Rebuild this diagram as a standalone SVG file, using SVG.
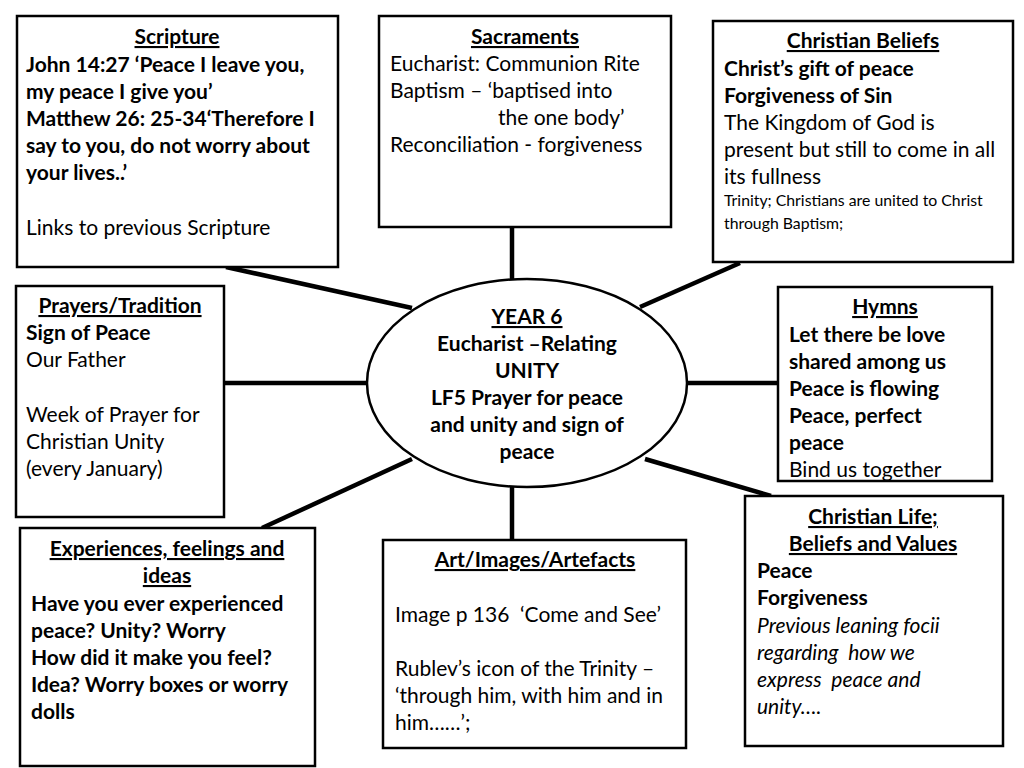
<svg xmlns="http://www.w3.org/2000/svg" width="1024" height="768" viewBox="0 0 1024 768">
<style>
text{font-family:Lato,"Open Sans","Liberation Sans",sans-serif;font-size:21px;fill:#000;white-space:pre}
.b{font-weight:bold}
.t{font-weight:bold;text-decoration:underline;text-anchor:middle}
.i{font-style:italic}
.s{font-size:15.8px}
.c{text-anchor:middle}
.box{fill:#fff;stroke:#000;stroke-width:2.5}
.ln{stroke:#000;stroke-width:4.5;fill:none}
</style>
<rect width="1024" height="768" fill="#fff"/>
<g id="connectors">
<line class="ln" x1="226" y1="267" x2="412" y2="308"/>
<line class="ln" x1="512" y1="227" x2="512" y2="280"/>
<line class="ln" x1="740" y1="263" x2="640" y2="307"/>
<line class="ln" x1="224" y1="383" x2="367" y2="383"/>
<line class="ln" x1="687" y1="383" x2="778" y2="383"/>
<line class="ln" x1="262" y1="528" x2="412" y2="459"/>
<line class="ln" x1="512" y1="487" x2="512" y2="540"/>
<line class="ln" x1="645" y1="459" x2="771" y2="496"/>
</g>
<g id="center">
<ellipse cx="527" cy="383" rx="160" ry="104" fill="#fff" stroke="#000" stroke-width="2.5"/>
<text class="t" x="527" y="324">YEAR 6</text>
<text class="b c" x="527" y="351">Eucharist –Relating</text>
<text class="b c" x="527" y="378">UNITY</text>
<text class="b c" x="527" y="405">LF5 Prayer for peace</text>
<text class="b c" x="527" y="432">and unity and sign of</text>
<text class="b c" x="527" y="459">peace</text>
</g>
<g id="scripture">
<rect class="box" x="17" y="16" width="321" height="251"/>
<text class="t" x="177" y="44">Scripture</text>
<text class="b" x="26" y="72">John 14:27 ‘Peace I leave you,</text>
<text class="b" x="26" y="99">my peace I give you’</text>
<text class="b" x="26" y="126">Matthew 26: 25-34‘Therefore I</text>
<text class="b" x="26" y="153">say to you, do not worry about</text>
<text class="b" x="26" y="180">your lives..’</text>
<text x="26" y="235">Links to previous Scripture</text>
</g>
<g id="sacraments">
<rect class="box" x="379" y="16" width="292" height="211"/>
<text class="t" x="525" y="44">Sacraments</text>
<text x="390" y="71">Eucharist: Communion Rite</text>
<text x="390" y="98">Baptism – ‘baptised into</text>
<text x="498" y="125">the one body’</text>
<text x="390" y="152">Reconciliation - forgiveness</text>
</g>
<g id="beliefs">
<rect class="box" x="713" y="21" width="300" height="241"/>
<text class="t" x="863" y="48">Christian Beliefs</text>
<text class="b" x="724" y="76">Christ’s gift of peace</text>
<text class="b" x="724" y="103">Forgiveness of Sin</text>
<text x="724" y="130">The Kingdom of God is</text>
<text x="724" y="157">present but still to come in all</text>
<text x="724" y="184">its fullness</text>
<text class="s" x="724" y="206">Trinity; Christians are united to Christ</text>
<text class="s" x="724" y="229">through Baptism;</text>
</g>
<g id="prayers">
<rect class="box" x="16" y="286" width="208" height="231"/>
<text class="t" x="120" y="313">Prayers/Tradition</text>
<text class="b" x="26" y="340">Sign of Peace</text>
<text x="26" y="367">Our Father</text>
<text x="26" y="422">Week of Prayer for</text>
<text x="26" y="449">Christian Unity</text>
<text x="26" y="476">(every January)</text>
</g>
<g id="hymns">
<rect class="box" x="778" y="287" width="214" height="194"/>
<text class="t" x="885" y="314">Hymns</text>
<text class="b" x="789" y="342">Let there be love</text>
<text class="b" x="789" y="369">shared among us</text>
<text class="b" x="789" y="396">Peace is flowing</text>
<text class="b" x="789" y="423">Peace, perfect</text>
<text class="b" x="789" y="450">peace</text>
<text x="789" y="477">Bind us together</text>
</g>
<g id="experiences">
<rect class="box" x="20" y="528" width="295" height="238"/>
<text class="t" x="167" y="556">Experiences, feelings and</text>
<text class="t" x="167" y="583">ideas</text>
<text class="b" x="31" y="611">Have you ever experienced</text>
<text class="b" x="31" y="638">peace? Unity? Worry</text>
<text class="b" x="31" y="665">How did it make you feel?</text>
<text class="b" x="31" y="692">Idea? Worry boxes or worry</text>
<text class="b" x="31" y="719">dolls</text>
</g>
<g id="art">
<rect class="box" x="383" y="540" width="303" height="208"/>
<text class="t" x="535" y="567">Art/Images/Artefacts</text>
<text x="395" y="622">Image p 136  ‘Come and See’</text>
<text x="395" y="676">Rublev’s icon of the Trinity –</text>
<text x="395" y="703">‘through him, with him and in</text>
<text x="395" y="730">him……’;</text>
</g>
<g id="life">
<rect class="box" x="745" y="496" width="258" height="250"/>
<text class="t" x="873" y="524">Christian Life;</text>
<text class="t" x="873" y="551">Beliefs and Values</text>
<text class="b" x="757" y="578">Peace</text>
<text class="b" x="757" y="605">Forgiveness</text>
<text class="i" x="757" y="633">Previous leaning focii</text>
<text class="i" x="757" y="660">regarding  how we</text>
<text class="i" x="757" y="687">express  peace and</text>
<text class="i" x="757" y="714">unity….</text>
</g>
</svg>
